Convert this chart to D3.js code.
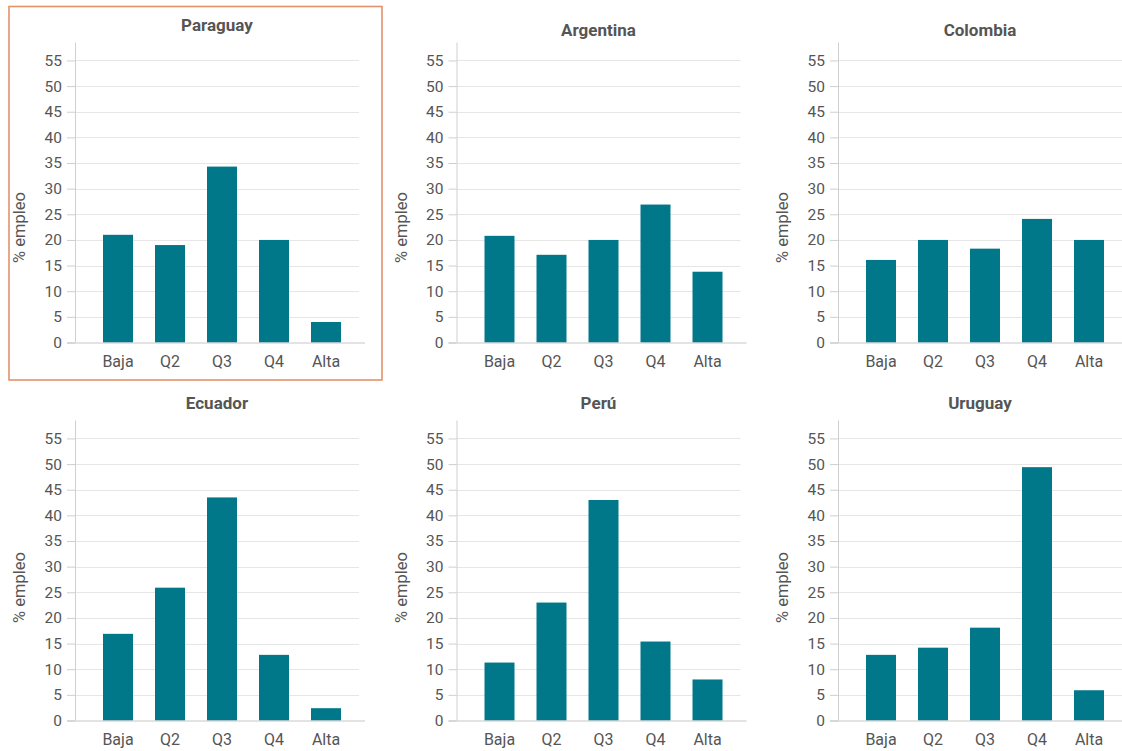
<!DOCTYPE html>
<html><head><meta charset="utf-8">
<script src="https://cdn.jsdelivr.net/npm/d3@7"></script>
<style>
html,body{margin:0;padding:0;background:#fff;}
svg{display:block;}
text{font-family:Roboto,"Noto Sans",sans-serif;}
</style></head>
<body>
<svg id="c" width="1122" height="751"></svg>
<script>
const categories = ["Baja","Q2","Q3","Q4","Alta"];
const countries = ["Paraguay","Argentina","Colombia","Ecuador","Perú","Uruguay"];
const paraguay  = [21.0, 19.0, 34.3, 20.0, 4.0];
const argentina = [20.8, 17.1, 20.0, 26.9, 13.8];
const colombia  = [16.1, 20.0, 18.3, 24.1, 20.0];
const ecuador   = [16.9, 25.9, 43.5, 12.8, 2.4];
const peru      = [11.3, 23.0, 43.0, 15.4, 8.0];
const uruguay   = [12.8, 14.2, 18.1, 49.4, 5.9];
const yTicks = [0,5,10,15,20,25,30,35,40,45,50,55];
const yLabel = "% empleo";
const seriesList = [paraguay, argentina, colombia, ecuador, peru, uruguay];

const svg = d3.select("#c");
const barColor = "#00788a";
const textColor = "#555";

const plotH = 300;
const yMax = 58.5;

seriesList.forEach((vals, i) => {
  const col = i % 3, row = Math.floor(i / 3);
  const ax = 75 + col * 381.5;
  const zeroY = row === 0 ? 342.5 : 720.5;
  const g = svg.append("g");

  const y = d3.scaleLinear().domain([0, yMax]).range([zeroY, zeroY - plotH]);
  const x = d3.scaleBand().domain(categories)
    .range([ax + 17, ax + 277]).paddingInner(0.4231).paddingOuter(0.2115);

  if (i === 0) {
    g.append("rect").attr("x", 9).attr("y", 6.5).attr("width", 373).attr("height", 373.5)
      .attr("fill", "none").attr("stroke", "#e2936a").attr("stroke-width", 1.6);
  }

  g.selectAll("line.grid").data(yTicks.filter(t => t > 0)).join("line")
    .attr("x1", ax).attr("x2", ax + 284)
    .attr("y1", d => Math.round(y(d)) + 0.5).attr("y2", d => Math.round(y(d)) + 0.5)
    .attr("stroke", "#e6e6e6").attr("stroke-width", 1);

  const yAxis = d3.axisLeft(y).tickValues(yTicks).tickSize(8).tickPadding(5);
  const ya = g.append("g").attr("transform", `translate(${ax},0)`).call(yAxis);
  ya.select(".domain").remove();
  ya.selectAll(".tick line").attr("stroke", "#cfcfcf");
  ya.selectAll(".tick text").attr("fill", textColor).attr("font-size", 15.5)
    .attr("font-family", "Roboto, sans-serif");
  g.append("line").attr("x1", ax + 0.5).attr("x2", ax + 0.5)
    .attr("y1", zeroY - plotH).attr("y2", zeroY)
    .attr("stroke", "#cfcfcf");

  g.selectAll("rect.bar").data(vals).join("rect")
    .attr("class", "bar")
    .attr("x", (d, j) => x(categories[j]))
    .attr("width", x.bandwidth())
    .attr("y", d => y(d))
    .attr("height", d => y(0) - y(d))
    .attr("fill", barColor);

  const xAxis = d3.axisBottom(x).tickSize(0).tickPadding(13);
  const xa = g.append("g").attr("transform", `translate(0,${zeroY})`).call(xAxis);
  xa.select(".domain").remove();
  xa.selectAll(".tick text").attr("fill", textColor).attr("font-size", 16)
    .attr("font-family", "Roboto, sans-serif");
  g.append("line").attr("x1", ax - 8).attr("x2", ax + 290)
    .attr("y1", zeroY + 0.5).attr("y2", zeroY + 0.5)
    .attr("stroke", "#c8c8c8").attr("stroke-width", 1.2);

  const titleY = row === 0 ? (i === 0 ? 31 : 36) : 409;
  g.append("text").attr("x", ax + 142).attr("y", titleY)
    .attr("text-anchor", "middle").attr("font-size", 17).attr("font-weight", "bold")
    .attr("fill", textColor).text(countries[i]);

  const ly = row === 0 ? zeroY - 115 : zeroY - 133;
  g.append("text").attr("transform", `translate(${ax - 50},${ly}) rotate(-90)`)
    .attr("text-anchor", "middle").attr("font-size", 16.5)
    .attr("fill", textColor).text(yLabel);
});
</script>
</body></html>
